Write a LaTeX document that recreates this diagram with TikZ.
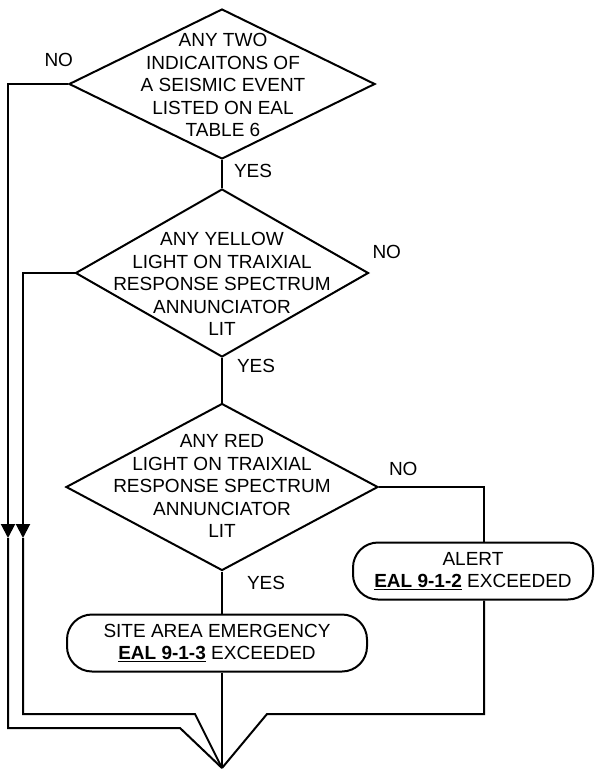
\documentclass[tikz,border=0pt]{standalone}
\usepackage{fontspec}
\setmainfont{Liberation Sans}
\usetikzlibrary{shapes.geometric,arrows.meta}
\newcommand{\eal}[1]{\underline{\textbf{EAL #1}}}
\tikzset{
  ask/.style={diamond,draw,inner sep=0pt},
  txt/.style={align=center,inner sep=0pt,font=\fontsize{19}{22.5}\selectfont},
  lbl/.style={inner sep=0pt,font=\fontsize{19}{22.5}\selectfont},
  stop/.style={draw,rectangle,rounded corners=25pt,minimum width=300pt,minimum height=57pt,
    align=center,inner sep=0pt,font=\fontsize{19}{22.5}\selectfont},
  tip/.style={-{Triangle[width=14pt,length=14pt]}}
}

\begin{document}
\begin{tikzpicture}[x=1pt,y=-1pt,line width=2pt]
  \useasboundingbox (0,0) rectangle (595,769);
  % decisions
  \node[ask,minimum width=306pt,minimum height=150pt] (Q1) at (222,84) {};
  \node[txt] (T1) at (223,85) {ANY TWO\\INDICAITONS OF\\A SEISMIC EVENT\\LISTED ON EAL\\TABLE 6};
  \node[ask,minimum width=293pt,minimum height=168pt] (Q2) at (222,273) {};
  \node[txt] (T2) at (222,284) {ANY YELLOW\\LIGHT ON TRAIXIAL\\RESPONSE SPECTRUM\\ANNUNCIATOR\\LIT};
  \node[ask,minimum width=312pt,minimum height=167pt] (Q3) at (222,487) {};
  \node[txt] (T3) at (222,486) {ANY RED\\LIGHT ON TRAIXIAL\\RESPONSE SPECTRUM\\ANNUNCIATOR\\LIT};
  % results
  \node[stop] (S) at (217,643) {SITE AREA EMERGENCY\\\eal{9-1-3} EXCEEDED};
  \node[stop,minimum width=240pt] (A) at (473,571) {ALERT\\\eal{9-1-2} EXCEEDED};
  \node[lbl,anchor=south west] (N2) at ([xshift=2pt,yshift=13pt]Q2.east) {NO};
  % bends and the common end
  \coordinate (P) at (222,768);
  \coordinate (L1) at (8,538);
  \coordinate (L2) at (23,538);
  \coordinate (B1) at (180,728);
  \coordinate (B2) at (195,714);
  \coordinate (B3) at (267,714);
  % flow
  \draw (Q1.south) to node [lbl,pos=.4,anchor=west,xshift=11pt] {YES} (Q2.north);
  \draw (Q2.south) to node [lbl,pos=.17,anchor=west,xshift=14pt] {YES} (Q3.north);
  \draw (Q3.south) to node [lbl,pos=.27,anchor=west,xshift=24pt] {YES} (Q3.south |- S.north);
  \draw (Q3.east) -| node [lbl,pos=0,anchor=south west,xshift=9pt,yshift=10pt] {NO} ([xshift=11pt]A.north);
  \draw[tip] (Q1.west) -| node [lbl,pos=0,anchor=south east,xshift=6pt,yshift=16pt] {NO} (L1);
  \draw[tip] (Q2.west) -| (L2);
  \draw (L1) |- (B1) -- (P);
  \draw (L2) |- (B2) -- (P);
  \draw ([xshift=11pt]A.south) |- (B3) -- (P);
  \draw (S.south -| P) -- (P);
\end{tikzpicture}
\end{document}
